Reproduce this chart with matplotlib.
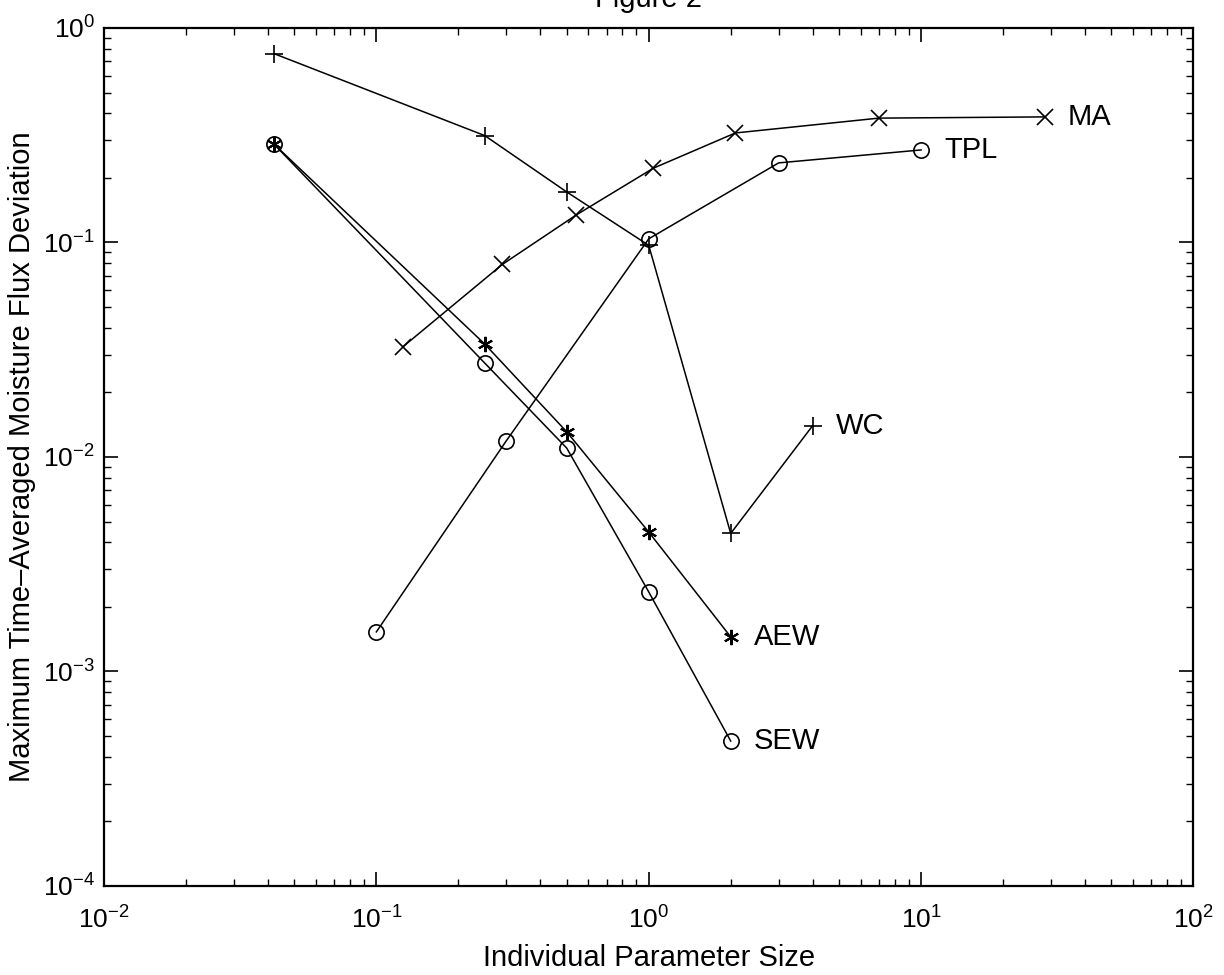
import matplotlib
matplotlib.use("Agg")
import matplotlib.pyplot as plt

plt.rcParams['font.family'] = ['Liberation Sans', 'DejaVu Sans']
plt.rcParams['mathtext.default'] = 'regular'

# values
wc_x = [0.042, 0.25, 0.5, 1.0, 2.0, 4.0]
wc_y = [0.76, 0.315, 0.172, 0.097, 0.0044, 0.014]

ma_x = [0.125, 0.29, 0.54, 1.04, 2.08, 7.0, 28.5]
ma_y = [0.0326, 0.079, 0.134, 0.222, 0.324, 0.38, 0.385]

tpl_x = [0.1, 0.3, 1.0, 3.0, 10.0]
tpl_y = [0.00153, 0.0119, 0.104, 0.235, 0.27]

aew_x = [0.042, 0.25, 0.5, 1.0, 2.0]
aew_y = [0.288, 0.0336, 0.0131, 0.00447, 0.00145]

sew_x = [0.042, 0.25, 0.5, 1.0, 2.0]
sew_y = [0.288, 0.0274, 0.011, 0.00235, 0.000474]

fig = plt.figure(figsize=(12.24, 9.75), dpi=100)
ax = fig.add_axes([0.085, 0.0913, 0.890, 0.880])

line_kw = dict(color='black', linewidth=1.1)
ax.plot(wc_x, wc_y, marker='+', markersize=13, markeredgewidth=1.2, **line_kw)
ax.plot(ma_x, ma_y, marker='x', markersize=11, markeredgewidth=1.2, **line_kw)
ax.plot(tpl_x, tpl_y, marker='o', markersize=11, markerfacecolor='none',
        markeredgewidth=1.2, **line_kw)
ax.plot(aew_x, aew_y, marker=(6, 2, 0), markersize=11, markeredgewidth=1.5, **line_kw)
ax.plot(sew_x, sew_y, marker='o', markersize=11, markerfacecolor='none',
        markeredgewidth=1.2, **line_kw)

# series names next to the last point of each curve
for name, xs, ys in [('MA', ma_x, ma_y), ('TPL', tpl_x, tpl_y), ('WC', wc_x, wc_y),
                     ('AEW', aew_x, aew_y), ('SEW', sew_x, sew_y)]:
    ax.annotate(name, (xs[-1], ys[-1]), xytext=(23, 0), textcoords='offset pixels',
                va='center', ha='left', fontsize=21)

ax.set_xscale('log')
ax.set_yscale('log')
ax.set_xlim(1e-2, 1e2)
ax.set_ylim(1e-4, 1e0)

ax.tick_params(which='both', direction='in', top=True, right=True, labelsize=19)
ax.tick_params(which='major', length=10, width=1.2)
ax.tick_params(which='minor', length=5, width=1.0)
ax.tick_params(axis='x', which='major', pad=14.5)
ax.tick_params(axis='y', which='major', pad=6.5)
for sp in ax.spines.values():
    sp.set_linewidth(1.6)

ax.set_xlabel('Individual Parameter Size', fontsize=21)
ax.set_ylabel('Maximum Time\u2013Averaged Moisture Flux Deviation', fontsize=21)
ax.xaxis.set_label_coords(0.5, -0.068)
ax.yaxis.set_label_coords(-0.062, 0.5)
fig.text(0.53, 1 - 7 / 975, 'Figure 2', ha='center', va='baseline', fontsize=21)

fig.savefig('out.png', dpi=100)
